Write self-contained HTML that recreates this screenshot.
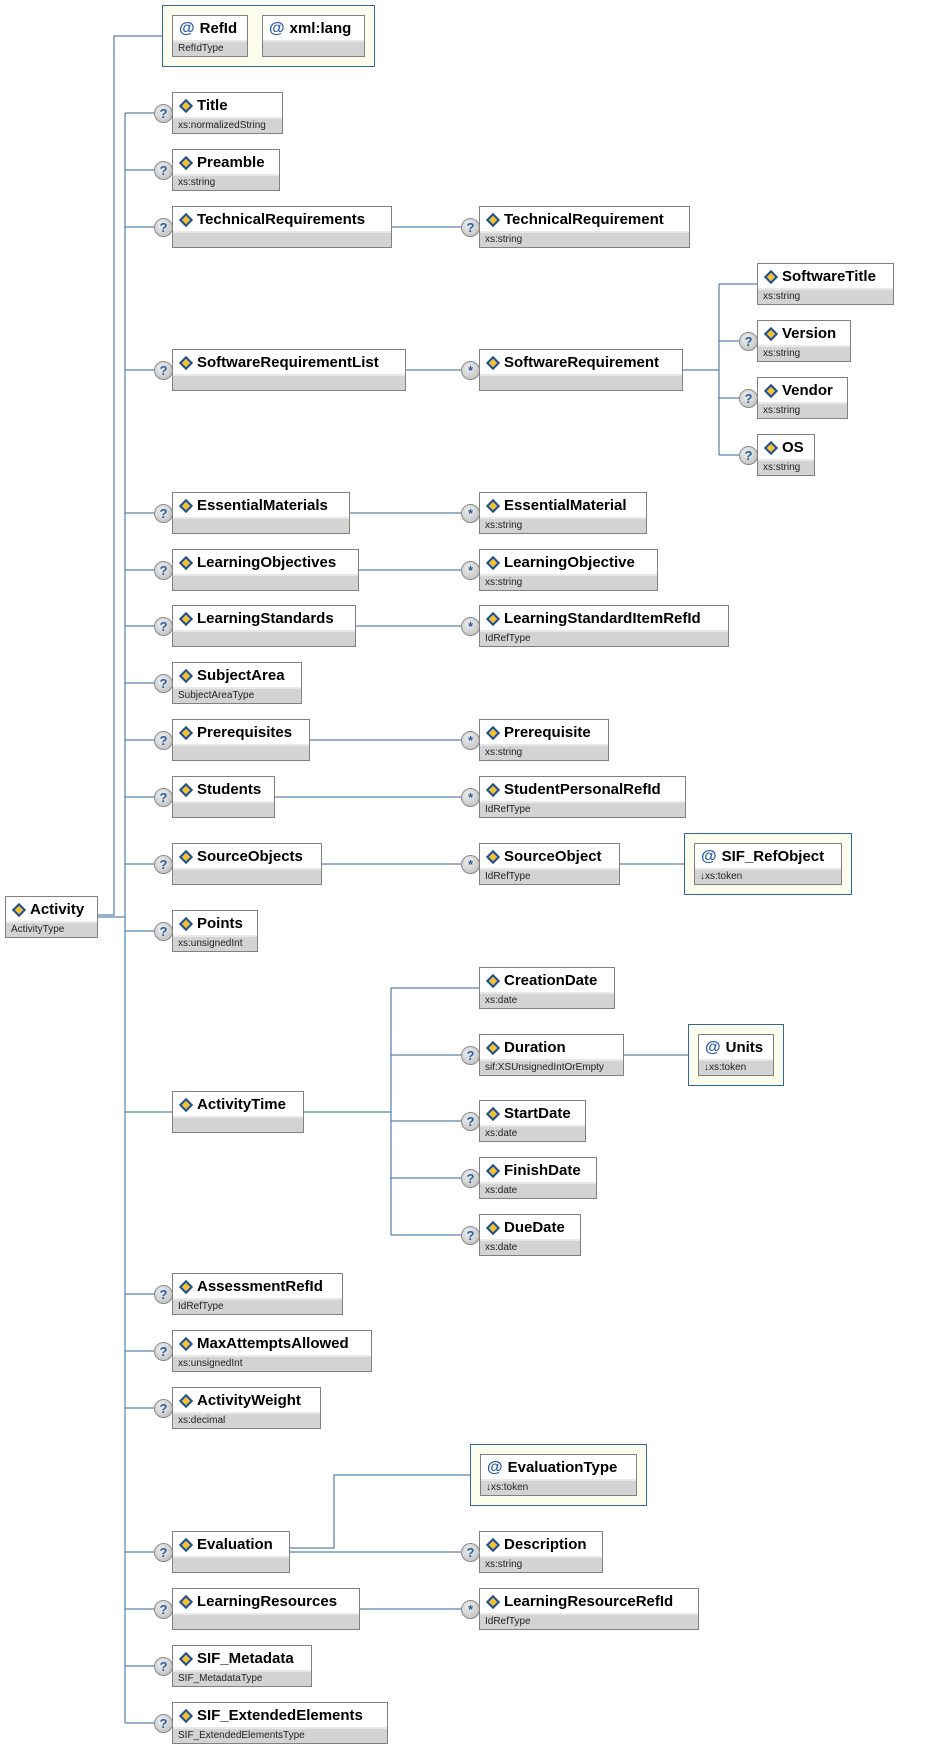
<!DOCTYPE html>
<html><head><meta charset="utf-8"><style>
body{margin:0;width:934px;height:1748px;background:#fff;position:relative;overflow:hidden;font-family:"Liberation Sans",Arial,sans-serif}
.b{position:absolute;height:40px;border:1px solid #808080;background:#d3d3d3}
.n{height:26px;background:#fff;border-bottom:2px solid #e8e8e8;box-sizing:border-box;font-weight:bold;font-size:15px;line-height:26px;padding-left:6px;white-space:nowrap;color:#000}
.t{font-size:10px;line-height:14px;padding-left:5px;color:#222;white-space:nowrap}
.n i{display:inline-block;width:6px;height:6px;background:#f4c430;border:2px solid #1d4f9c;transform:rotate(45deg);margin:0 6px 1px 2px;vertical-align:middle}
.n b{color:#2a5d9f;font-size:16px;margin-right:5px}
.c{position:absolute;width:17px;height:17px;border-radius:50%;border:1px solid #8a8a8a;background:radial-gradient(circle at 40% 35%,#f0f0f0,#b8b8b8);color:#2a5d9f;font-weight:bold;font-size:13px;line-height:17px;text-align:center}
.g{position:absolute;height:60px;border:1px solid #336699;background:#fdfdee}
svg{position:absolute;left:0;top:0}
</style></head><body>
<svg width="934" height="1748"><g stroke="#336699" stroke-width="1" fill="none" shape-rendering="crispEdges">
<path d="M162 36H114V915H97"/>
<path d="M97 917H125M125 113V1723"/>
<path d="M125 113H154M125 170H154M125 227H154M125 370H154M125 513H154M125 570H154M125 626H154M125 683H154M125 740H154M125 797H154M125 864H154M125 931H154M125 1112H172M125 1294H154M125 1351H154M125 1408H154M125 1552H154M125 1609H154M125 1666H154M125 1723H154"/>
<path d="M391 227H461M405 370H461M349 513H461M358 570H461M355 626H461M309 740H461M274 797H461M321 864H461M359 1609H461M619 864H684M623 1055H688"/>
<path d="M682 370H719M719 284V455M719 284H757M719 341H739M719 398H739M719 455H739"/>
<path d="M303 1112H391M391 988V1235M391 988H479M391 1055H461M391 1121H461M391 1178H461M391 1235H461"/>
<path d="M289 1548H334V1475H470M289 1552H461"/>
</g></svg>

<div class="g" style="left:162px;top:5px;width:211px"></div>
<div class="b" style="left:172px;top:15px;width:74px"><div class="n"><b>@</b>RefId</div><div class="t">RefIdType</div></div>
<div class="b" style="left:262px;top:15px;width:101px"><div class="n"><b>@</b>xml:lang</div><div class="t"></div></div>

<div class="b" style="left:5px;top:896px;width:91px"><div class="n"><i></i>Activity</div><div class="t">ActivityType</div></div>

<div class="c" style="left:154px;top:104px">?</div><div class="b" style="left:172px;top:92px;width:109px"><div class="n"><i></i>Title</div><div class="t">xs:normalizedString</div></div>
<div class="c" style="left:154px;top:161px">?</div><div class="b" style="left:172px;top:149px;width:106px"><div class="n"><i></i>Preamble</div><div class="t">xs:string</div></div>
<div class="c" style="left:154px;top:218px">?</div><div class="b" style="left:172px;top:206px;width:218px"><div class="n"><i></i>TechnicalRequirements</div><div class="t"></div></div>
<div class="c" style="left:154px;top:361px">?</div><div class="b" style="left:172px;top:349px;width:232px"><div class="n"><i></i>SoftwareRequirementList</div><div class="t"></div></div>
<div class="c" style="left:154px;top:504px">?</div><div class="b" style="left:172px;top:492px;width:176px"><div class="n"><i></i>EssentialMaterials</div><div class="t"></div></div>
<div class="c" style="left:154px;top:561px">?</div><div class="b" style="left:172px;top:549px;width:185px"><div class="n"><i></i>LearningObjectives</div><div class="t"></div></div>
<div class="c" style="left:154px;top:617px">?</div><div class="b" style="left:172px;top:605px;width:182px"><div class="n"><i></i>LearningStandards</div><div class="t"></div></div>
<div class="c" style="left:154px;top:674px">?</div><div class="b" style="left:172px;top:662px;width:128px"><div class="n"><i></i>SubjectArea</div><div class="t">SubjectAreaType</div></div>
<div class="c" style="left:154px;top:731px">?</div><div class="b" style="left:172px;top:719px;width:136px"><div class="n"><i></i>Prerequisites</div><div class="t"></div></div>
<div class="c" style="left:154px;top:788px">?</div><div class="b" style="left:172px;top:776px;width:101px"><div class="n"><i></i>Students</div><div class="t"></div></div>
<div class="c" style="left:154px;top:855px">?</div><div class="b" style="left:172px;top:843px;width:148px"><div class="n"><i></i>SourceObjects</div><div class="t"></div></div>
<div class="c" style="left:154px;top:922px">?</div><div class="b" style="left:172px;top:910px;width:84px"><div class="n"><i></i>Points</div><div class="t">xs:unsignedInt</div></div>
<div class="b" style="left:172px;top:1091px;width:130px"><div class="n"><i></i>ActivityTime</div><div class="t"></div></div>
<div class="c" style="left:154px;top:1285px">?</div><div class="b" style="left:172px;top:1273px;width:169px"><div class="n"><i></i>AssessmentRefId</div><div class="t">IdRefType</div></div>
<div class="c" style="left:154px;top:1342px">?</div><div class="b" style="left:172px;top:1330px;width:198px"><div class="n"><i></i>MaxAttemptsAllowed</div><div class="t">xs:unsignedInt</div></div>
<div class="c" style="left:154px;top:1399px">?</div><div class="b" style="left:172px;top:1387px;width:147px"><div class="n"><i></i>ActivityWeight</div><div class="t">xs:decimal</div></div>
<div class="c" style="left:154px;top:1543px">?</div><div class="b" style="left:172px;top:1531px;width:116px"><div class="n"><i></i>Evaluation</div><div class="t"></div></div>
<div class="c" style="left:154px;top:1600px">?</div><div class="b" style="left:172px;top:1588px;width:186px"><div class="n"><i></i>LearningResources</div><div class="t"></div></div>
<div class="c" style="left:154px;top:1657px">?</div><div class="b" style="left:172px;top:1645px;width:138px"><div class="n"><i></i>SIF_Metadata</div><div class="t">SIF_MetadataType</div></div>
<div class="c" style="left:154px;top:1714px">?</div><div class="b" style="left:172px;top:1702px;width:214px"><div class="n"><i></i>SIF_ExtendedElements</div><div class="t">SIF_ExtendedElementsType</div></div>

<div class="c" style="left:461px;top:218px">?</div><div class="b" style="left:479px;top:206px;width:209px"><div class="n"><i></i>TechnicalRequirement</div><div class="t">xs:string</div></div>
<div class="c" style="left:461px;top:361px">*</div><div class="b" style="left:479px;top:349px;width:202px"><div class="n"><i></i>SoftwareRequirement</div><div class="t"></div></div>
<div class="c" style="left:461px;top:504px">*</div><div class="b" style="left:479px;top:492px;width:166px"><div class="n"><i></i>EssentialMaterial</div><div class="t">xs:string</div></div>
<div class="c" style="left:461px;top:561px">*</div><div class="b" style="left:479px;top:549px;width:177px"><div class="n"><i></i>LearningObjective</div><div class="t">xs:string</div></div>
<div class="c" style="left:461px;top:617px">*</div><div class="b" style="left:479px;top:605px;width:248px"><div class="n"><i></i>LearningStandardItemRefId</div><div class="t">IdRefType</div></div>
<div class="c" style="left:461px;top:731px">*</div><div class="b" style="left:479px;top:719px;width:128px"><div class="n"><i></i>Prerequisite</div><div class="t">xs:string</div></div>
<div class="c" style="left:461px;top:788px">*</div><div class="b" style="left:479px;top:776px;width:205px"><div class="n"><i></i>StudentPersonalRefId</div><div class="t">IdRefType</div></div>
<div class="c" style="left:461px;top:855px">*</div><div class="b" style="left:479px;top:843px;width:139px"><div class="n"><i></i>SourceObject</div><div class="t">IdRefType</div></div>
<div class="b" style="left:479px;top:967px;width:134px"><div class="n"><i></i>CreationDate</div><div class="t">xs:date</div></div>
<div class="c" style="left:461px;top:1046px">?</div><div class="b" style="left:479px;top:1034px;width:143px"><div class="n"><i></i>Duration</div><div class="t">sif:XSUnsignedIntOrEmpty</div></div>
<div class="c" style="left:461px;top:1112px">?</div><div class="b" style="left:479px;top:1100px;width:105px"><div class="n"><i></i>StartDate</div><div class="t">xs:date</div></div>
<div class="c" style="left:461px;top:1169px">?</div><div class="b" style="left:479px;top:1157px;width:116px"><div class="n"><i></i>FinishDate</div><div class="t">xs:date</div></div>
<div class="c" style="left:461px;top:1226px">?</div><div class="b" style="left:479px;top:1214px;width:100px"><div class="n"><i></i>DueDate</div><div class="t">xs:date</div></div>
<div class="g" style="left:470px;top:1444px;width:175px"></div>
<div class="b" style="left:480px;top:1454px;width:155px"><div class="n"><b>@</b>EvaluationType</div><div class="t">↓xs:token</div></div>
<div class="c" style="left:461px;top:1543px">?</div><div class="b" style="left:479px;top:1531px;width:122px"><div class="n"><i></i>Description</div><div class="t">xs:string</div></div>
<div class="c" style="left:461px;top:1600px">*</div><div class="b" style="left:479px;top:1588px;width:218px"><div class="n"><i></i>LearningResourceRefId</div><div class="t">IdRefType</div></div>

<div class="g" style="left:684px;top:833px;width:166px"></div>
<div class="b" style="left:694px;top:843px;width:146px"><div class="n"><b>@</b>SIF_RefObject</div><div class="t">↓xs:token</div></div>
<div class="g" style="left:688px;top:1024px;width:94px"></div>
<div class="b" style="left:698px;top:1034px;width:74px"><div class="n"><b>@</b>Units</div><div class="t">↓xs:token</div></div>

<div class="b" style="left:757px;top:263px;width:135px"><div class="n"><i></i>SoftwareTitle</div><div class="t">xs:string</div></div>
<div class="c" style="left:739px;top:332px">?</div><div class="b" style="left:757px;top:320px;width:92px"><div class="n"><i></i>Version</div><div class="t">xs:string</div></div>
<div class="c" style="left:739px;top:389px">?</div><div class="b" style="left:757px;top:377px;width:89px"><div class="n"><i></i>Vendor</div><div class="t">xs:string</div></div>
<div class="c" style="left:739px;top:446px">?</div><div class="b" style="left:757px;top:434px;width:56px"><div class="n"><i></i>OS</div><div class="t">xs:string</div></div>
</body></html>
